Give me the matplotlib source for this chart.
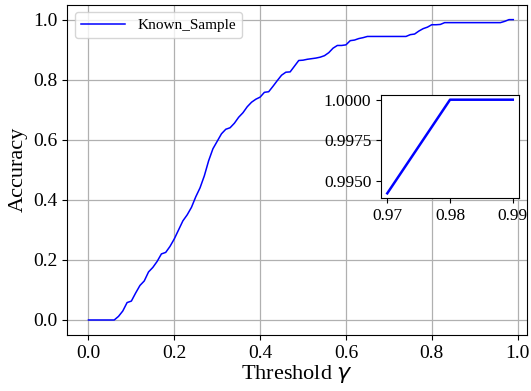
import matplotlib
matplotlib.use("Agg")
import matplotlib.pyplot as plt
import numpy as np

thresholds = np.round(np.arange(0, 100) * 0.01, 2)
accuracy = [
    0.0, 0.0, 0.0, 0.0, 0.0, 0.0, 0.0, 0.012, 0.03, 0.058,
    0.063, 0.09, 0.115, 0.13, 0.16, 0.175, 0.195, 0.22, 0.225, 0.245,
    0.27, 0.30, 0.33, 0.35, 0.375, 0.41, 0.44, 0.48, 0.53, 0.57,
    0.595, 0.62, 0.635, 0.64, 0.655, 0.675, 0.69, 0.71, 0.725, 0.735,
    0.742, 0.758, 0.76, 0.778, 0.797, 0.815, 0.825, 0.826, 0.845, 0.864,
    0.865, 0.868, 0.87, 0.872, 0.875, 0.88, 0.89, 0.905, 0.914, 0.914,
    0.916, 0.93, 0.932, 0.937, 0.94, 0.944, 0.944, 0.944, 0.944, 0.944,
    0.944, 0.944, 0.944, 0.944, 0.944, 0.95, 0.952, 0.962, 0.97, 0.975,
    0.983, 0.983, 0.984, 0.99, 0.99, 0.99, 0.99, 0.99, 0.99, 0.99,
    0.99, 0.99, 0.99, 0.99, 0.99, 0.99, 0.99, 0.99425, 1.0, 1.0,
]
inset_start = 97  # zoomed window: last three thresholds

plt.rcParams["font.family"] = ["Liberation Serif", "DejaVu Serif"]

fig = plt.figure(figsize=(5.31, 3.91), dpi=100)
ax = fig.add_axes([0.1262, 0.1432, 0.8663, 0.845])
ax.plot(thresholds, accuracy, color="blue", linewidth=1.1, label="Known_Sample")
ax.set_xlim(-0.05, 1.022)
ax.set_ylim(-0.05, 1.05)
ax.set_xticks([0.0, 0.2, 0.4, 0.6, 0.8, 1.0])
ax.set_yticks([0.0, 0.2, 0.4, 0.6, 0.8, 1.0])
ax.tick_params(labelsize=14)
ax.set_xlabel(r"Threshold $\gamma$", fontsize=16, labelpad=1)
ax.set_ylabel("Accuracy", fontsize=16)
ax.grid(True, color="#b0b0b0", linewidth=0.9)
ax.legend(loc="upper left", fontsize=11, handlelength=2.9)

axin = fig.add_axes([0.7175, 0.4936, 0.26, 0.2634])
axin.plot(thresholds[inset_start:], accuracy[inset_start:], color="blue", linewidth=1.8)
axin.set_xticks([0.97, 0.98, 0.99])
axin.set_yticks([0.995, 0.9975, 1.0])
axin.set_yticklabels(["0.9950", "0.9975", "1.0000"])
axin.tick_params(labelsize=12.5)

fig.savefig("out.png", dpi=100)
